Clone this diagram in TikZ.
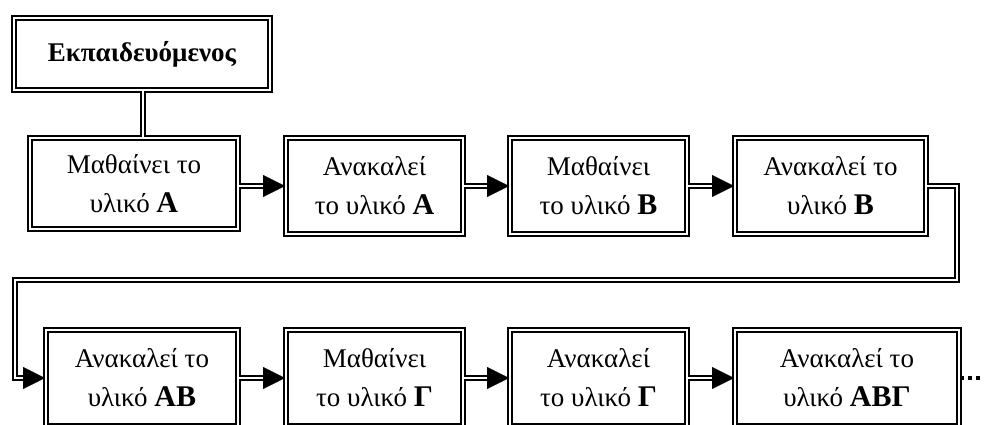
\documentclass[tikz,border=0pt]{standalone}
\usepackage{fontspec}
\setmainfont{Liberation Serif}
\usetikzlibrary{arrows.meta}
\newcommand{\mtr}[1]{{\fontsize{30}{39}\selectfont\bfseries #1}}
\tikzset{
  box/.style={draw, double, double distance=2pt, line width=2pt, align=center, inner sep=0pt,
    font=\fontsize{27}{39}\selectfont},
  link/.style={double, double distance=2pt, line width=1.8pt},
  head/.style={-{Triangle[length=22pt,width=22pt]}, line width=0.1pt}
}
\begin{document}
\begin{tikzpicture}[x=1pt,y=-1pt]
\useasboundingbox (0,0) rectangle (984,425);
\clip (0,0) rectangle (984,425);
\node[box, minimum width=256pt, minimum height=72pt, font=\fontsize{27}{30}\selectfont\bfseries] (N0) at (142,54) {Εκπαιδευόμενος};
\node[box, minimum width=208pt, minimum height=91pt] (N1) at (134,183.5) {Μαθαίνει το\\υλικό \mtr{Α}};
\node[box, minimum width=177pt, minimum height=96pt] (N2) at (374.5,186) {Ανακαλεί\\το υλικό \mtr{Α}};
\node[box, minimum width=177pt, minimum height=96pt] (N3) at (598.5,186) {Μαθαίνει\\το υλικό \mtr{Β}};
\node[box, minimum width=191pt, minimum height=96pt] (N4) at (830.5,186) {Ανακαλεί το\\υλικό \mtr{Β}};
\node[box, minimum width=192pt, minimum height=96pt] (N5) at (142,378) {Ανακαλεί το\\υλικό \mtr{ΑΒ}};
\node[box, minimum width=177pt, minimum height=96pt] (N6) at (374.5,378) {Μαθαίνει\\το υλικό \mtr{Γ}};
\node[box, minimum width=177pt, minimum height=96pt] (N7) at (598.5,378) {Ανακαλεί\\το υλικό \mtr{Γ}};
\node[box, minimum width=224pt, minimum height=96pt] (N8) at (847,378) {Ανακαλεί το\\υλικό \mtr{ΑΒΓ}};
\coordinate (R) at (957,280);
\coordinate (L) at (15,280);
\coordinate (E) at (984,378);
\draw[link] (N0.south -| 143,0) -- (N1.north -| 143,0);
\foreach \a/\b in {N1/N2, N2/N3, N3/N4, N5/N6, N6/N7, N7/N8} {
  \draw[link, shorten >=12pt] (\a.east |- \b.west) -- (\b.west);
  \draw[head] ([xshift=-22pt]\b.west) -- (\b.west);
}
\draw[link, shorten >=12pt] (N4.east) -- (N4.east -| R) -- (R) -- (L) -- (L |- N5.west) -- (N5.west);
\draw[head] ([xshift=-22pt]N5.west) -- (N5.west);
\draw[line width=4pt, dash pattern=on 4pt off 4pt] (N8.east) -- (E);
\end{tikzpicture}
\end{document}
